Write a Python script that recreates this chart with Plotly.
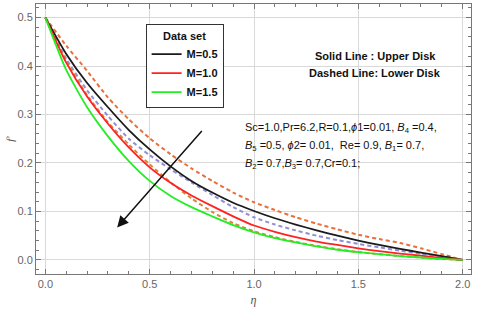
import plotly.graph_objects as go

eta = [0.0, 0.1, 0.2, 0.3, 0.4, 0.5, 0.6, 0.7, 0.8, 0.9, 1.0,
       1.1, 1.2, 1.3, 1.4, 1.5, 1.6, 1.7, 1.8, 1.9, 2.0]

# Solid lines: upper disk
upper_m05 = [0.5, 0.425, 0.365, 0.315, 0.268, 0.228, 0.193, 0.163, 0.139, 0.118, 0.101,
             0.086, 0.073, 0.061, 0.050, 0.040, 0.031, 0.023, 0.015, 0.008, 0.0]
upper_m10 = [0.5, 0.407, 0.337, 0.281, 0.232, 0.191, 0.159, 0.133, 0.111, 0.090, 0.071,
             0.058, 0.047, 0.038, 0.031, 0.024, 0.018, 0.013, 0.009, 0.004, 0.0]
upper_m15 = [0.5, 0.392, 0.315, 0.255, 0.204, 0.163, 0.132, 0.109, 0.090, 0.072, 0.057,
             0.045, 0.036, 0.028, 0.021, 0.016, 0.012, 0.008, 0.005, 0.002, 0.0]

# Dashed lines: lower disk
lower_m05 = [0.5, 0.442, 0.390, 0.335, 0.290, 0.251, 0.218, 0.189, 0.163, 0.139, 0.119,
             0.103, 0.088, 0.075, 0.063, 0.052, 0.043, 0.035, 0.024, 0.012, 0.0]
lower_m10 = [0.5, 0.415, 0.350, 0.297, 0.250, 0.216, 0.187, 0.160, 0.134, 0.109, 0.088,
             0.073, 0.061, 0.050, 0.041, 0.033, 0.026, 0.019, 0.013, 0.006, 0.0]
lower_m15 = [0.5, 0.410, 0.340, 0.284, 0.238, 0.197, 0.160, 0.127, 0.099, 0.076, 0.059,
             0.047, 0.037, 0.029, 0.022, 0.016, 0.012, 0.008, 0.005, 0.002, 0.0]

labels = ["M=0.5", "M=1.0", "M=1.5"]
solid_colors = ["#1a1a1a", "#ff2222", "#22ee22"]
dash_colors = ["#e8703c", "#8f8fd6", "#d9843a"]

fig = go.Figure()
for ys, c in zip([lower_m05, lower_m10, lower_m15], dash_colors):
    fig.add_trace(go.Scatter(x=eta, y=ys, mode="lines", showlegend=False,
                             line=dict(color=c, width=2, dash="4px,3px", shape="spline", smoothing=0.6)))
for ys, c, name in zip([upper_m05, upper_m10, upper_m15], solid_colors, labels):
    fig.add_trace(go.Scatter(x=eta, y=ys, mode="lines", name=f"<b>{name}</b>",
                             line=dict(color=c, width=1.8, shape="spline", smoothing=0.6)))

axis_common = dict(showgrid=True, gridcolor="#d9d9d9", gridwidth=1, zeroline=False,
                   showline=True, linecolor="#777777", linewidth=1, mirror="allticks",
                   ticks="inside", ticklen=5, tickcolor="#777777", automargin=False,
                   tickfont=dict(family="Liberation Sans, Arial", size=11, color="#666666"))

fig.update_xaxes(range=[-0.045, 2.04], tickvals=[0, 0.5, 1.0, 1.5, 2.0],
                 ticktext=["0.0", "0.5", "1.0", "1.5", "2.0"],
                 minor=dict(ticks="inside", ticklen=3, dtick=0.1, tick0=0, tickcolor="#777777", showgrid=False),
                 title=dict(text="<i>η</i>", font=dict(family="Liberation Serif", size=12, color="#555555"), standoff=6),
                 **axis_common)
fig.update_yaxes(range=[-0.029, 0.528], tickvals=[0, 0.1, 0.2, 0.3, 0.4, 0.5],
                 ticktext=["0.0", "0.1", "0.2", "0.3", "0.4", "0.5"],
                 minor=dict(ticks="inside", ticklen=3, dtick=0.02, tick0=0, tickcolor="#777777", showgrid=False),
                 title=dict(text="<i>f'</i>", font=dict(family="Liberation Serif", size=11, color="#555555"), standoff=0),
                 **axis_common)

# Arrow indicating increasing M
arrow_tail = (0.756, 0.269)
arrow_head = (0.344, 0.067)
fig.add_annotation(x=arrow_head[0], y=arrow_head[1], ax=arrow_tail[0], ay=arrow_tail[1],
                   xref="x", yref="y", axref="x", ayref="y", text="", showarrow=True,
                   arrowhead=2, arrowsize=1.5, arrowwidth=1.5, arrowcolor="#111111")

txt_font = dict(family="Liberation Sans, Arial", size=11, color="#111111")
fig.add_annotation(x=1.58, y=0.42, xref="x", yref="y", showarrow=False,
                   text="<b>Solid Line : Upper Disk</b>", font=txt_font)
fig.add_annotation(x=1.58, y=0.386, xref="x", yref="y", showarrow=False,
                   text="<b>Dashed Line: Lower Disk</b>", font=txt_font)

param_lines = [
    "Sc=1.0,Pr=6.2,R=0.1,<i>ϕ</i>1=0.01, <i>B</i><sub>4</sub> =0.4,",
    "<i>B</i><sub>5</sub> =0.5, <i>ϕ</i>2= 0.01,  Re= 0.9, <i>B</i><sub>1</sub>= 0.7,",
    "<i>B</i><sub>2</sub>= 0.7,<i>B</i><sub>3</sub>= 0.7,Cr=0.1;",
]
param_y = [0.272, 0.235, 0.198]
for t, yv in zip(param_lines, param_y):
    fig.add_annotation(x=0.947, y=yv, xref="x", yref="y", showarrow=False,
                       xanchor="left", text=t, font=txt_font)

fig.update_layout(
    width=480, height=310,
    margin=dict(l=36, r=9, t=4, b=36, autoexpand=False),
    paper_bgcolor="white", plot_bgcolor="white",
    legend=dict(x=0.252, y=0.925, xanchor="left", yanchor="top",
                bgcolor="white", bordercolor="#333333", borderwidth=1,
                title=dict(text="<b>Data set</b>", side="top center",
                           font=dict(family="Liberation Sans, Arial", size=11, color="#111111")),
                font=dict(family="Liberation Sans, Arial", size=11, color="#111111"),
                itemwidth=30, tracegroupgap=0),
)

fig.write_html("out.html", config={"displayModeBar": False},
               post_script="document.body.style.margin='0';document.body.style.padding='0';")
